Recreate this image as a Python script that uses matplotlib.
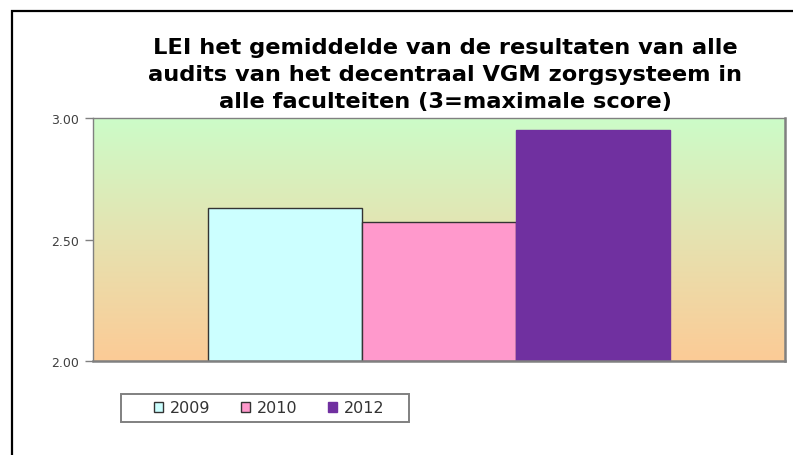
import numpy as np
import matplotlib.pyplot as plt
from matplotlib.colors import LinearSegmentedColormap
from matplotlib.patches import Rectangle

years = ["2009", "2010", "2012"]
scores = [2.63, 2.57, 2.95]
bar_colors = ["#CCFFFF", "#FF99CC", "#7030A0"]
edge_colors = ["#333333", "#333333", "#7030A0"]
yticks = [2.00, 2.50, 3.00]
title = ("LEI het gemiddelde van de resultaten van alle\n"
         "audits van het decentraal VGM zorgsysteem in\n"
         "alle faculteiten (3=maximale score)")

fig = plt.figure(figsize=(7.93, 4.56), dpi=100)
W, H = 793, 456

# outer chart frame (runs off the right and bottom edge)
fig.patches.append(Rectangle((11.5 / W, -0.2), 1.2, (H - 11.5) / H + 0.2,
                             transform=fig.transFigure, fill=False,
                             edgecolor="black", linewidth=1.6, zorder=0))

ax = fig.add_axes([93 / W, 1 - 362 / H, (785 - 93) / W, (362 - 119) / H])

# gradient background, green on top to orange at the bottom
cmap = LinearSegmentedColormap.from_list("bg", ["#FCCB96", "#E6E2B0", "#CCFCC8"])
grad = np.linspace(0, 1, 256).reshape(-1, 1)
ax.imshow(grad, cmap=cmap, aspect="auto", origin="lower",
          extent=(0, 1, 0, 1), transform=ax.transAxes, zorder=0)

x = np.arange(len(years)) - 1
for xi, s, c, ec, lab in zip(x, scores, bar_colors, edge_colors, years):
    ax.bar(xi, s - 2.0, bottom=2.0, width=1.0, color=c, edgecolor=ec,
           linewidth=1.0, label=lab, zorder=2)

pad = 115 / 154
ax.set_xlim(-1.5 - pad, 1.5 + pad)
ax.set_ylim(2.0, 3.0)
ax.set_xticks([])
ax.set_yticks(yticks)
ax.set_yticklabels([f"{v:.2f}" for v in yticks])
ax.tick_params(axis="y", direction="out", length=6, width=1, color="#808080",
               labelsize=9, labelcolor="#404040", pad=4)
for name, sp in ax.spines.items():
    sp.set_color("#808080")
    sp.set_linewidth(1.8 if name in ("right", "bottom") else 1.0)

fig.text(445 / W, 1 - 75 / H, title, ha="center", va="center",
         fontsize=16.2, fontweight="bold", family="DejaVu Sans",
         linespacing=1.43)

# legend box
fig.patches.append(Rectangle((121 / W, 1 - 423 / H), 288 / W, 28 / H,
                             transform=fig.transFigure, fill=False,
                             edgecolor="#808080", linewidth=1.4, zorder=3))
handles, labels = ax.get_legend_handles_labels()
leg = fig.legend(handles, labels, loc="center", ncol=3,
                 bbox_to_anchor=(269 / W, 1 - 409 / H),
                 frameon=False, fontsize=11.5, handlelength=0.56,
                 handleheight=0.56, handletextpad=0.44, columnspacing=1.9)
for t in leg.get_texts():
    t.set_color("#333333")

fig.savefig("out.png", dpi=100)
